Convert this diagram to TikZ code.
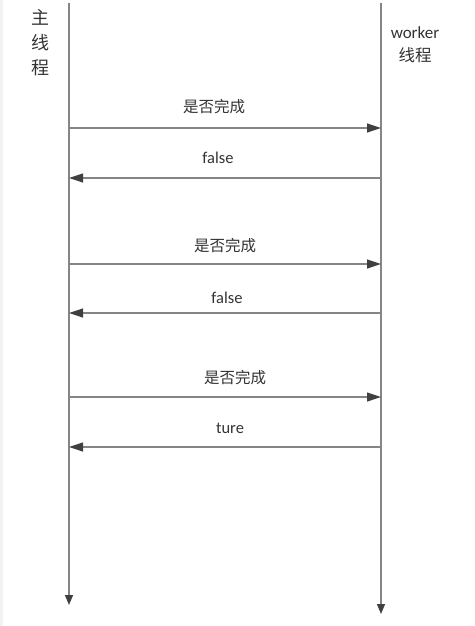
\documentclass[tikz,border=0pt]{standalone}
\usepackage{fontspec}
\setmainfont{Carlito}
\newfontfamily\cjk{Noto Sans CJK SC}
\usetikzlibrary{arrows.meta}
\definecolor{linegray}{HTML}{858585}
\definecolor{tipgray}{HTML}{404040}
\definecolor{txtgray}{HTML}{333333}
\tikzset{
  life/.style={draw=linegray, line width=1.3pt, -{Triangle[length=10pt,width=8pt,color=tipgray]}},
  msg/.style={draw=linegray, line width=1.2pt, -{Triangle[length=14pt,width=9pt,color=tipgray]}},
  lbl/.style={text=txtgray, inner sep=0pt, font=\fontsize{16.5}{16.5}\selectfont},
  cnlbl/.style={text=txtgray, inner sep=0pt, font=\cjk\fontsize{15.5}{15.5}\selectfont},
}
\begin{document}
\begin{tikzpicture}[x=1pt,y=-1pt]
  \useasboundingbox (0,0) rectangle (474,626);
  \fill[black!5] (0,0) rectangle (3,626);
  % lifelines
  \node[text=txtgray, align=center, inner sep=0pt, font=\cjk\fontsize{18}{25}\selectfont] (mainlbl) at (40,43) {主\\线\\程};
  \node[lbl, font=\fontsize{17}{17}\selectfont] (worker) at (415,33) {worker};
  \node[cnlbl, font=\cjk\fontsize{16.5}{16.5}\selectfont] (workercn) at (415,55) {线程};
  \coordinate (mtop) at (69,3);
  \coordinate (mend) at (69,605);
  \coordinate (wtop) at (381,3);
  \coordinate (wend) at (381,614);
  \draw[life] (mtop) -- (mend);
  \draw[life] (wtop) -- (wend);
  % messages
  \foreach \n/\y in {1/128, 2/178, 3/264, 4/313, 5/397, 6/447}{
    \coordinate (m\n) at (69,\y);
    \coordinate (w\n) at (381,\y);
  }
  \node[cnlbl] (q1) at (214,107) {是否完成};
  \node[lbl] (a1) at (218,158) {false};
  \node[cnlbl] (q2) at (225,246) {是否完成};
  \node[lbl] (a2) at (227,298) {false};
  \node[cnlbl] (q3) at (235,378) {是否完成};
  \node[lbl] (a3) at (230,428) {ture};
  \draw[msg] (m1) -- (w1);
  \draw[msg] (w2) -- (m2);
  \draw[msg] (m3) -- (w3);
  \draw[msg] (w4) -- (m4);
  \draw[msg] (m5) -- (w5);
  \draw[msg] (w6) -- (m6);
\end{tikzpicture}
\end{document}
